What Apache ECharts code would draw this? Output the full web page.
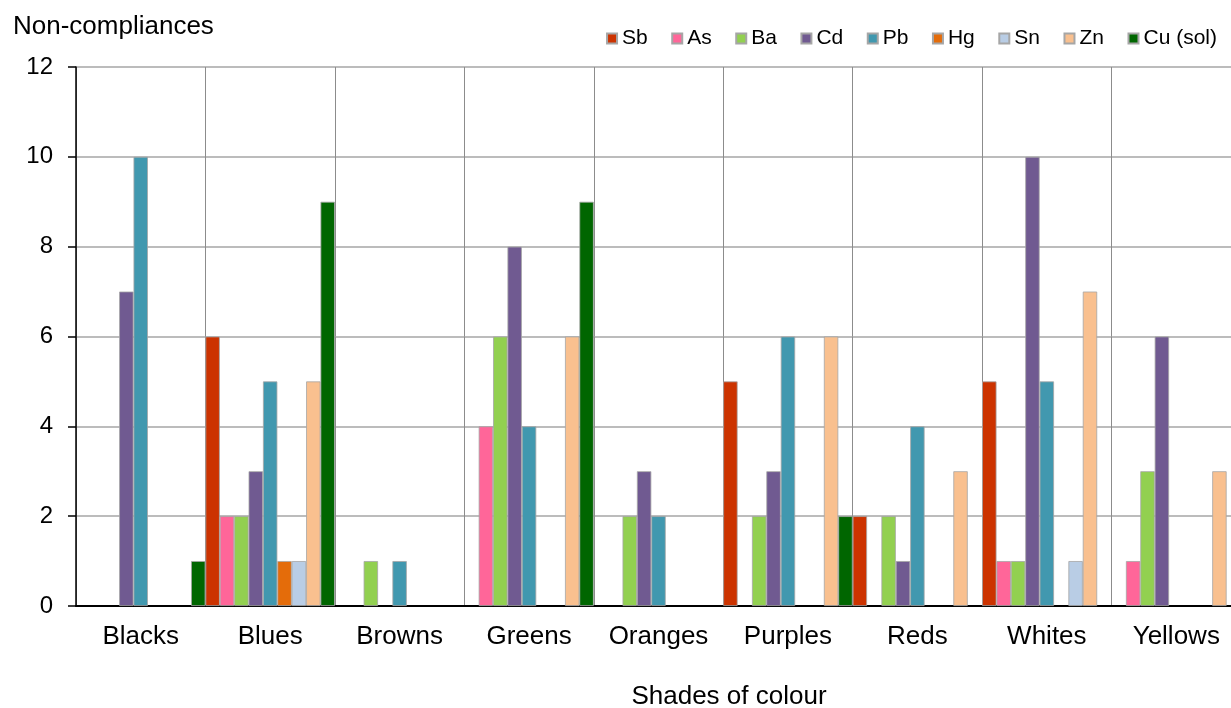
<!DOCTYPE html>
<html>
<head>
<meta charset="utf-8">
<script src="https://cdn.jsdelivr.net/npm/echarts@6/dist/echarts.min.js"></script>
<style>
  html, body { margin: 0; padding: 0; background: #fff; }
  #chart { width: 1231px; height: 708px; }
</style>
</head>
<body>
<div id="chart"></div>
<script>
// Non-compliances by element, grouped by shade of colour
const categories = ['Blacks', 'Blues', 'Browns', 'Greens', 'Oranges', 'Purples', 'Reds', 'Whites', 'Yellows'];
const elements = ['Sb', 'As', 'Ba', 'Cd', 'Pb', 'Hg', 'Sn', 'Zn', 'Cu (sol)'];

const sb  = [0, 6, 0, 0, 0, 5, 2, 5, 0];
const as  = [0, 2, 0, 4, 0, 0, 0, 1, 1];
const ba  = [0, 2, 1, 6, 2, 2, 2, 1, 3];
const cd  = [7, 3, 0, 8, 3, 3, 1, 10, 6];
const pb  = [10, 5, 1, 4, 2, 6, 4, 5, 0];
const hg  = [0, 1, 0, 0, 0, 0, 0, 0, 0];
const sn  = [0, 1, 0, 0, 0, 0, 0, 1, 0];
const zn  = [0, 5, 0, 6, 0, 6, 3, 7, 3];
const cu  = [1, 9, 0, 9, 0, 2, 0, 0, 0];

const yTicks = { min: 0, max: 12, interval: 2 };

const seriesValues = [sb, as, ba, cd, pb, hg, sn, zn, cu];
const colors = ['#CC3300', '#FF6699', '#92D050', '#705A91', '#4198AF', '#E46C0A', '#B9CDE5', '#F9C08F', '#006600'];

const FONT = 'Liberation Sans, Arial, sans-serif';

const chart = echarts.init(document.getElementById('chart'), null, { renderer: 'canvas' });

chart.setOption({
  animation: false,
  backgroundColor: '#fff',
  textStyle: { fontFamily: FONT },
  grid: { left: 76, top: 67, bottom: 102, right: -10, containLabel: false, outerBoundsMode: 'none' },
  legend: {
    right: 9,
    top: 23,
    itemWidth: 10,
    itemHeight: 10,
    itemGap: 23.5,
    icon: 'rect',
    textStyle: { fontSize: 21, color: '#000', fontFamily: FONT },
    data: elements
  },
  graphic: [
    // axis titles
    { type: 'text', left: 13, top: 14, style: { text: 'Non-compliances', fontSize: 26, fontFamily: FONT, fill: '#000' } },
    { type: 'text', x: 729, y: 697, style: { text: 'Shades of colour', fontSize: 26, fontFamily: FONT, fill: '#000', align: 'center', verticalAlign: 'middle' } }
  ],
  xAxis: {
    type: 'category',
    data: categories,
    axisLine: { lineStyle: { color: '#000', width: 2 } },
    axisTick: { show: false },
    axisLabel: { interval: 0, fontSize: 26, color: '#000', margin: 18, fontFamily: FONT },
    splitLine: { show: true, interval: 0, lineStyle: { color: '#8C8C8C', width: 1 } }
  },
  yAxis: {
    type: 'value',
    min: yTicks.min,
    max: yTicks.max,
    interval: yTicks.interval,
    axisLine: { show: true, lineStyle: { color: '#000', width: 1.5 } },
    axisTick: { show: true, length: 8, lineStyle: { color: '#000', width: 1.5 } },
    axisLabel: { fontSize: 24, color: '#000', margin: 23, fontFamily: FONT },
    splitLine: { show: true, lineStyle: { color: '#A6A6A6', width: 1.5 } }
  },
  series: elements.map((name, i) => ({
    name,
    type: 'bar',
    barGap: 0,
    barCategoryGap: '0%',
    itemStyle: { color: colors[i], borderColor: '#A6A6A6', borderWidth: 0.8 },
    data: seriesValues[i].map(v => (v === 0 ? '-' : v))
  }))
});
</script>
</body>
</html>
